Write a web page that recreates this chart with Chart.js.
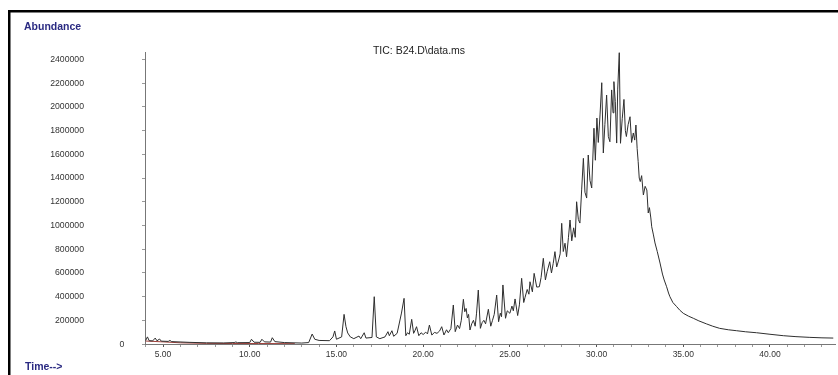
<!DOCTYPE html>
<html>
<head>
<meta charset="utf-8">
<script src="https://cdn.jsdelivr.net/npm/chart.js@4"></script>
<style>
html,body{margin:0;padding:0;background:#fff;}
#wrap{width:838px;height:375px;position:relative;}
</style>
</head>
<body>
<div id="wrap"><canvas id="c" width="838" height="375"></canvas></div>
<script>
// ---- data ----
const chartTitle = "TIC: B24.D\\data.ms";
const yAxisTitle = "Abundance";
const xAxisTitle = "Time-->";
const yTickValues = [0,200000,400000,600000,800000,1000000,1200000,1400000,1600000,1800000,2000000,2200000,2400000];
const xTickLabelValues = [5,10,15,20,25,30,35,40];

const retentionTime = [
 4.00,4.10,4.20,4.40,4.55,4.65,4.80,4.90,5.30,5.40,
 5.50,6.50,7.50,8.50,9.10,9.20,9.30,10.00,10.10,10.25,
 10.60,10.70,10.85,11.20,11.30,11.45,12.00,13.00,13.40,13.60,
 13.75,14.00,14.60,14.80,14.90,15.00,15.30,15.44,15.55,15.65,
 15.80,16.00,16.30,16.40,16.60,16.70,17.05,17.18,17.30,17.50,
 17.80,17.97,18.05,18.20,18.30,18.50,18.75,18.90,19.00,19.10,
 19.20,19.34,19.45,19.52,19.62,19.75,19.88,20.00,20.15,20.25,
 20.36,20.50,20.65,20.80,20.95,21.07,21.20,21.35,21.45,21.60,
 21.74,21.85,21.98,22.10,22.20,22.32,22.40,22.48,22.55,22.62,
 22.70,22.80,22.90,23.00,23.08,23.18,23.30,23.40,23.50,23.60,
 23.76,23.90,24.00,24.10,24.24,24.35,24.45,24.52,24.60,24.75,
 24.85,25.00,25.12,25.20,25.30,25.45,25.55,25.68,25.80,25.87,
 26.00,26.10,26.16,26.30,26.40,26.55,26.70,26.80,26.93,27.05,
 27.15,27.30,27.40,27.50,27.60,27.70,27.80,27.90,27.99,28.08,
 28.18,28.27,28.38,28.47,28.57,28.68,28.77,28.85,28.95,29.04,
 29.14,29.24,29.33,29.43,29.52,29.62,29.72,29.85,29.93,30.02,
 30.10,30.20,30.30,30.39,30.48,30.58,30.68,30.77,30.87,30.95,
 31.00,31.08,31.16,31.22,31.31,31.38,31.48,31.58,31.66,31.72,
 31.82,31.93,32.02,32.12,32.20,32.27,32.34,32.40,32.46,32.52,
 32.60,32.70,32.80,32.90,32.98,33.05,33.13,33.18,33.28,33.37,
 33.50,33.66,33.80,33.90,34.04,34.15,34.23,34.40,34.62,34.80,
 35.00,35.30,35.58,35.90,36.35,36.70,37.10,37.60,38.08,38.60,
 39.23,40.00,40.77,41.50,42.30,43.00,43.65
];
const abundance = [
 30000,60000,28000,26000,50000,27000,42000,24000,22000,30000,
 20000,14000,10000,9000,12000,17000,11000,12000,40000,15000,
 14000,40000,18000,16000,53000,20000,12000,8000,12000,84000,
 40000,30000,28000,60000,110000,40000,60000,250000,146000,93000,
 60000,45000,67000,45000,95000,50000,55000,399000,60000,45000,
 60000,104000,70000,112000,65000,90000,261000,385000,70000,95000,
 82000,208000,90000,110000,146000,70000,95000,80000,100000,85000,
 160000,75000,98000,90000,110000,146000,76000,120000,95000,130000,
 329000,104000,160000,130000,200000,377000,272000,300000,220000,250000,
 118000,170000,200000,150000,260000,455000,132000,180000,200000,170000,
 293000,150000,200000,250000,413000,188000,260000,230000,498000,217000,
 280000,259000,320000,280000,380000,240000,330000,554000,350000,390000,
 460000,420000,525000,440000,596000,480000,483000,560000,723000,540000,
 610000,694000,599000,680000,779000,650000,700000,760000,1018000,780000,
 850000,736000,900000,1046000,870000,980000,900000,1200000,1050000,1020000,
 1300000,1566000,1280000,1231000,1594000,1380000,1316000,1820000,1550000,1906000,
 1700000,1932000,2204000,1611000,1850000,2100000,1749000,1706000,2143000,1950000,
 2213000,2044000,1695000,2150000,2457000,1693000,1900000,2063000,1800000,1750000,
 1850000,1917000,1700000,1780000,1720000,1847000,1650000,1538000,1400000,1370000,
 1420000,1257000,1330000,1299000,1105000,1150000,1063000,989000,920000,852000,
 780000,683000,590000,540000,483000,430000,399000,350000,315000,285000,
 259000,235000,217000,195000,169000,150000,132000,120000,112000,103000,
 95000,82000,70000,62000,56000,52000,50000
];
const baselineTime = [4.0,5.0,6.0,7.5,9.0,10.5,12.6];
const baselineAbundance = [25000,18000,10000,5000,4000,4000,3000];

const yMax = 2463000;

const toPoints = (xs, ys) => xs.map((x, i) => ({x: x, y: ys[i]}));

const FONT = "'Liberation Sans', Arial, sans-serif";

const decorPlugin = {
  id: 'decor',
  afterDraw(chart) {
    const ctx = chart.ctx;
    const y = chart.scales.y;
    ctx.save();
    // frame (top & left)
    ctx.fillStyle = '#000';
    ctx.fillRect(8, 10, 830, 2.5);
    ctx.fillRect(8, 10, 2.5, 365);
    // y tick labels
    ctx.fillStyle = '#333';
    ctx.font = '8.7px ' + FONT;
    ctx.textBaseline = 'middle';
    yTickValues.forEach(v => {
      const py = y.getPixelForValue(v);
      if (v === 0) { ctx.textAlign = 'center'; ctx.fillText('0', 122, py + 1); }
      else { ctx.textAlign = 'right'; ctx.fillText(String(v), 84, py); }
    });
    // titles
    ctx.fillStyle = '#2a2a82';
    ctx.font = 'bold 10.5px ' + FONT;
    ctx.textAlign = 'left';
    ctx.textBaseline = 'alphabetic';
    ctx.fillText(yAxisTitle, 24, 30);
    ctx.fillText(xAxisTitle, 25, 370);
    ctx.fillStyle = '#222';
    ctx.font = '10.5px ' + FONT;
    ctx.textAlign = 'center';
    ctx.fillText(chartTitle, 419, 54);
    ctx.restore();
  }
};

new Chart(document.getElementById('c'), {
  type: 'line',
  data: {
    datasets: [
      {
        data: toPoints(baselineTime, baselineAbundance),
        borderColor: '#a0403a',
        borderWidth: 1,
        pointRadius: 0,
        tension: 0,
        order: 2
      },
      {
        data: toPoints(retentionTime, abundance),
        borderColor: '#2e2e2e',
        borderWidth: 1,
        pointRadius: 0,
        tension: 0,
        order: 1
      }
    ]
  },
  options: {
    responsive: false,
    animation: false,
    devicePixelRatio: 1,
    layout: {padding: {left: 0, right: 3, top: 52, bottom: 0}},
    plugins: {legend: {display: false}, tooltip: {enabled: false}, title: {display: false}},
    scales: {
      x: {
        type: 'linear',
        min: 3.96,
        max: 43.75,
        afterFit(s) { s.height = 31; },
        afterBuildTicks(s) {
          const t = [];
          for (let v = 4; v <= 43; v++) t.push({value: v});
          s.ticks = t;
        },
        border: {display: true, color: '#777', width: 1},
        grid: {drawOnChartArea: false, drawTicks: true, tickLength: 3,
               tickColor: c => (c.tick && c.tick.value % 5 === 0) ? '#555' : '#999'},
        ticks: {
          autoSkip: false, maxRotation: 0, padding: 3,
          color: '#333', font: {family: FONT, size: 8.5},
          callback: v => xTickLabelValues.includes(v) ? v.toFixed(2) : ''
        }
      },
      y: {
        type: 'linear',
        min: 0,
        max: yMax,
        afterFit(s) { s.width = 145; },
        afterBuildTicks(s) { s.ticks = yTickValues.map(v => ({value: v})); },
        border: {display: true, color: '#777', width: 1},
        grid: {drawOnChartArea: false, drawTicks: true, tickLength: 3, tickColor: '#999'},
        ticks: {display: false}
      }
    }
  },
  plugins: [decorPlugin]
});
</script>
</body>
</html>
